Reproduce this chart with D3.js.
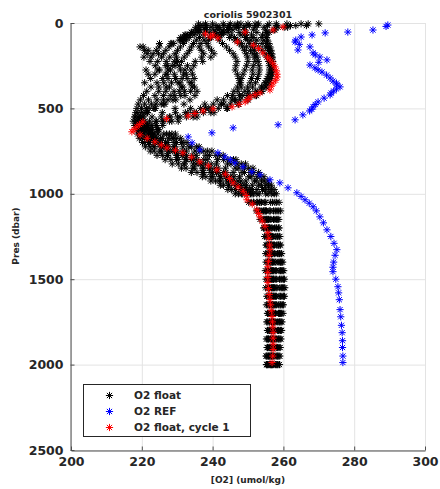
<!DOCTYPE html>
<html>
<head>
<meta charset="utf-8">
<script src="https://cdn.jsdelivr.net/npm/d3@7"></script>
<style>
body { margin: 0; background: #fff; }
svg text { font-family: "DejaVu Sans", sans-serif; font-weight: bold; fill: #262626; }
</style>
</head>
<body>
<svg class="chart" width="440" height="489"></svg>
<script>

//
// data
//

var titleText = "coriolis 5902301";
var xTicks = [200, 220, 240, 260, 280, 300];
var yTicks = [0, 500, 1000, 1500, 2000, 2500];
var legendLabels = ["O2 float", "O2 REF", "O2 float, cycle 1"];

// pressure levels shared by the float cycles (dbar)
var presFloat = [5, 15, 25, 40, 55, 70, 85, 100, 120, 140, 160, 180, 200, 225, 250, 275, 300, 325, 350, 375,
    400, 425, 450, 475, 500, 525, 550, 575, 600, 625, 650, 675, 700, 725, 750, 775, 800, 825, 850, 875,
    900, 925, 950, 975, 1000, 1050, 1100, 1150, 1200, 1250, 1300, 1350, 1400, 1450, 1500, 1550, 1600,
    1650, 1700, 1750, 1800, 1850, 1900, 1950, 2000];

// O2 float, all cycles (umol/kg)
var floatA = [265, 262, 258.5, 255, 252.5, 251, 251.5, 252.5, 254, 255, 255.8, 256.3, 256.6, 256.8, 256.9, 256.9, 256.7, 256.4, 255.9, 255.1,
    254.0, 252.4, 250.0, 247.2, 244, 239.5, 234.5, 228.5, 224, 222.6, 226.2,
    227.5, 229.1, 231.6, 235.0, 238.1, 241.4, 244.2, 246.4, 248.3, 250.2, 251.8, 253.0, 254.1, 255.0, 256.4, 257.2,
    257.2, 257.5, 257.7, 258.1, 258.3, 258.5, 258.8, 258.9, 259.0, 258.8, 258.7, 258.6, 258.4, 258.3, 258.1, 258.0, 257.9, 257.8];
var floatB = [258, 255.5, 252, 249, 247.5, 248, 249.5, 250.8, 252, 253, 254, 254.8, 255.3, 255.8, 256, 256.1, 255.9, 255.4, 254.8, 253.8,
    252.2, 249.8, 246.5, 242.5, 238, 233, 228, 224, 221.5, 220.6, 223.1,
    224.2, 225.5, 227.6, 230.0, 232.6, 235.6, 238.0, 240.6, 243.1, 245.0, 247.2, 248.9, 250.4, 251.5, 253.8, 255.2,
    255.8, 256.1, 256.6, 256.7, 257.0, 257.1, 257.3, 257.2, 257.5, 257.3, 257.4, 257.2, 257.3, 257.1, 257.2, 256.9, 257.0, 256.8];
var floatC = [250, 247, 244.5, 241.5, 239.2, 237.5, 236.3, 235.4, 234.6, 234, 233.5, 232.8, 232, 231.2, 230.6, 230.9, 231.8, 232.8, 233.6, 234.2,
    233.8, 232.2, 229.6, 226.5, 223.8, 221.2, 219.6, 218.6, 218.4, 218.5, 218.8,
    219.3, 220.2, 221.0, 222.4, 224.3, 226.6, 228.6, 231.2, 234.0, 237.1, 239.5, 242.2, 244.3, 246.4, 250.2, 252.4,
    253.4, 254.4, 254.7, 255.1, 255.0, 255.1, 254.9, 255.1, 255.0, 255.3, 255.2, 255.5, 255.3, 255.5, 255.2, 255.4, 255.1, 255.3];
var floatD = [245, 243.2, 241.5, 240.3, 240.8, 242.6, 244.8, 246.3, 247.5, 248.4, 249, 249.5, 249.9, 250, 249.6, 249.1, 248.6, 248.1, 247.6, 247,
    246, 244.2, 241.3, 237.8, 233.8, 229.5, 225.5, 222.2, 220.6, 223.0, 227.8,
    229.0, 231.2, 234.0, 237.5, 240.9, 244.3, 246.9, 249.0, 250.9, 252.6, 253.8, 255.0, 255.9, 256.7, 257.6, 258.2,
    258.0, 258.1, 258.4, 258.6, 258.9, 259.2, 259.4, 259.6, 259.7, 259.6, 259.3, 259.2, 259.0, 258.8, 258.7, 258.5, 258.4, 258.3];
var floatE = [240, 238.2, 236, 235.2, 234.0, 232.5, 231.6, 231.0, 228.5, 220.4, 221.8, 224.7, 225.6, 222.3, 223.8, 221.2, 223.7, 225.9, 220.8, 222.6,
    224.8, 223.7, 221.9, 220.8, 219.9, 218.9, 218.1, 217.6, 218.0, 219.2, 221.7,
    222.4, 223.6, 225.4, 227.6, 230.1, 232.4, 235.3, 237.5, 240.0, 242.3, 244.6, 246.6, 248.2, 249.8, 252.6, 254.3,
    254.9, 255.6, 255.9, 256.3, 256.2, 256.5, 256.4, 256.6, 256.6, 256.8, 256.6, 256.8, 256.7, 256.5, 256.6, 256.4, 256.3, 256.4];
var floatF = [236, 237.3, 238.2, 236.4, 234.1, 232.2, 231.0, 230.6, 228.2, 227.7, 226.8, 226.1, 227.9, 229.2, 227.3, 228.1, 229.2, 227.4, 226.2, 227.8,
    229.1, 228.2, 226.1, 224.0, 222.1, 220.6, 219.7, 219.8, 221.1, 224.8, 229.5,
    231.0, 232.8, 236.2, 239.8, 243.0, 246.6, 249.3, 251.4, 253.0, 254.5, 255.6, 256.6, 257.4, 258.0, 258.8, 259.2,
    258.7, 258.8, 259.0, 259.2, 259.5, 259.8, 260.1, 260.3, 260.4, 260.3, 260.0, 259.9, 259.6, 259.5, 259.3, 259.1, 259.0, 258.9];
var floatG = [270, 266.5, 261.2, 257.4, 255.2, 254.1, 253.9, 254.5, 255.2, 255.6, 256.0, 256.3, 256.0, 256.3, 256.6, 256.6, 256.2, 255.6, 255.0, 254.0,
    252.6, 250.6, 247.8, 245.0, 241.6, 237.4, 232.6, 227.8, 224.1, 222.2, 224.6,
    225.8, 227.3, 229.4, 232.6, 235.4, 238.5, 241.1, 243.6, 245.8, 247.6, 249.4, 251.2, 252.5, 253.2, 255.0, 256.3,
    256.5, 256.8, 257.1, 257.5, 257.6, 257.9, 258.0, 258.1, 258.2, 258.0, 258.1, 257.8, 257.9, 257.6, 257.7, 257.5, 257.4, 257.3];
var floatH = [253, 250.4, 247.3, 244.5, 243, 242.1, 241.6, 241.9, 242.8, 243.9, 244.8, 245.8, 246.4, 246.9, 246.6, 246.4, 247, 247.4, 247.9, 248.1,
    247.2, 245.6, 243.1, 240.2, 236.6, 232.3, 227.8, 224.1, 221.6, 220.2, 220.0,
    220.8, 221.9, 223.5, 225.1, 227.2, 229.8, 232.0, 234.4, 237.1, 239.6, 241.9, 244.5, 246.5, 248.2, 251.5, 253.2,
    254.4, 254.8, 255.5, 255.5, 255.8, 255.6, 255.8, 255.7, 255.9, 255.8, 256.1, 255.9, 256.0, 256.1, 255.8, 256.0, 255.8, 255.7];
var floatI = [256, 252.6, 248.8, 245.7, 243.2, 240.9, 239.6, 238.8, 238.4, 238.9, 239.7, 240.4, 239.5, 237.2, 234.7, 233.9, 234.3, 234.8, 234.1, 234.9,
    235.6, 235.0, 233.6, 231.9, 229.4, 225.8, 222.9, 220.9, 220.0, 220.6, 222.4,
    223.3, 224.6, 226.5, 228.8, 231.4, 234.0, 236.7, 239.1, 241.6, 243.7, 245.9, 247.8, 249.3, 250.7, 253.2, 254.8,
    255.3, 255.9, 256.2, 256.5, 256.6, 256.8, 256.9, 256.9, 257.0, 257.1, 257.0, 257.0, 256.9, 256.8, 256.9, 256.7, 256.6, 256.6];
var floatJ = [238, 236.5, 235.2, 236.0, 234.5, 233.0, 232.0, 231.5, 225.0, 219.5, 220.8, 221.5, 220.6, 224.5, 226.8, 225, 221.8, 222.5, 224.3, 226.9,
    221.4, 220.5, 219.6, 219.0, 218.6, 218.3, 218.0, 218.4, 219.4, 220.8, 222.9,
    223.8, 224.9, 227.0, 229.3, 231.6, 234.6, 236.5, 239.2, 241.1, 243.9, 245.7, 247.9, 249.5, 251.1, 253.4, 255.0,
    255.6, 256.0, 256.4, 256.8, 256.8, 257.0, 257.1, 257.3, 257.2, 257.4, 257.3, 257.1, 257.2, 256.9, 256.9, 256.8, 256.6, 256.5];
var floatK = [243, 241, 239.5, 237.8, 236.2, 234.8, 233.4, 232.6, 231.8, 230.9, 230.1, 229.4, 229.8, 230.1, 228.6, 227.4, 226.8, 229.6, 230.2, 231.1,
    230.6, 229.3, 227.4, 225.5, 223.4, 221.6, 220.4, 219.9, 221.3, 224.4, 228.5,
    229.9, 231.9, 235.5, 238.6, 241.9, 245.9, 248.1, 250.2, 251.6, 253.4, 254.6, 255.8, 256.6, 257.4, 258.1, 258.7,
    258.4, 258.6, 258.8, 259.0, 259.3, 259.5, 259.8, 260.0, 260.1, 260.0, 259.7, 259.5, 259.3, 259.2, 259.0, 258.8, 258.7, 258.5];
var floatL = [261, 258, 254.5, 251.5, 249.5, 249, 249.3, 249.8, 250.5, 251.2, 251.8, 252.3, 252.6, 252.9, 253.1, 253.2, 253, 252.7, 252.1, 251.3,
    250.2, 248.5, 246.2, 243.2, 239.6, 235.4, 230.8, 226.2, 222.9, 221.4, 221.9,
    222.6, 223.4, 225.6, 227.4, 229.8, 232.7, 234.5, 237.1, 239.3, 242.1, 244.0, 246.5, 248.0, 249.9, 252.5, 254.5,
    255.3, 255.7, 256.1, 256.3, 256.5, 256.4, 256.6, 256.5, 256.8, 256.7, 256.9, 256.6, 256.7, 256.5, 256.4, 256.2, 256.1, 256.0];
var floatM = [252, 249.5, 246.8, 244.6, 242.4, 240.8, 239.2, 237.6, 236.7, 236.2, 236.8, 237.5, 236.9, 235.1, 232.9, 232.2, 232.6, 231.4, 230.8, 231.6,
    232.1, 231.0, 228.8, 226.2, 223.7, 221.6, 220.3, 219.6, 219.3, 219.6, 220.6,
    221.3, 222.2, 223.5, 225.6, 227.3, 230.3, 232.0, 234.8, 237.4, 240.1, 242.3, 244.6, 246.4, 248.5, 251.6, 253.7,
    254.6, 255.2, 255.4, 255.8, 255.9, 256.0, 255.9, 256.1, 256.2, 256.3, 256.2, 256.3, 256.1, 256.0, 255.9, 255.7, 255.6, 255.5];
var floatN = [248, 246.1, 244.3, 243.0, 244.1, 245.3, 246.2, 247.1, 248.2, 249.6, 250.7, 251.4, 251.9, 252.0, 251.5, 251.2, 251.4, 251.0, 250.6, 249.9,
    249.1, 247.6, 245.4, 242.4, 238.9, 234.8, 230.1, 225.8, 222.6, 221.8, 223.5,
    225.3, 226.7, 229.1, 231.6, 234.2, 237.5, 239.6, 241.6, 243.8, 246.1, 248.0, 249.6, 251.3, 252.5, 254.6, 256.0,
    256.2, 256.5, 256.9, 257.2, 257.4, 257.6, 257.7, 257.7, 257.9, 257.8, 257.8, 257.6, 257.6, 257.4, 257.4, 257.1, 257.1, 256.9];
var floatO = [247, 244.8, 241.9, 238.1, 235.6, 233.8, 232.5, 231.8, 229.0, 224.9, 224.1, 223.2, 222.6, 226.9, 229.4, 224.6, 227.1, 229.5, 228.4, 224.8,
    226.8, 226.1, 224.3, 222.7, 221.3, 219.8, 218.9, 218.7, 219.2, 219.6, 219.4,
    220.1, 220.8, 222.3, 223.5, 225.8, 228.2, 230.3, 232.5, 235.6, 238.1, 240.8, 243.1, 245.3, 247.3, 250.9, 252.8,
    254.0, 254.5, 255.1, 255.4, 255.4, 255.5, 255.4, 255.5, 255.6, 255.7, 255.6, 255.7, 255.6, 255.7, 255.5, 255.5, 255.3, 255.2];
var floatP = [267, 263.5, 260.4, 257.6, 256.0, 255.3, 255.2, 255.5, 255.9, 256.2, 256.5, 256.7, 256.9, 257.0, 257.1, 257.0, 256.9, 256.5, 256.0, 255.1,
    253.8, 252.0, 249.8, 247.3, 244.2, 240.4, 235.6, 230.3, 225.9, 224.6, 227.0,
    228.5, 229.8, 233.3, 236.4, 239.1, 243.1, 245.2, 247.4, 249.0, 250.9, 252.3, 253.8, 254.9, 255.7, 256.9, 257.7,
    257.6, 257.9, 258.2, 258.5, 258.7, 259.0, 259.2, 259.3, 259.4, 259.2, 259.1, 258.9, 258.8, 258.6, 258.5, 258.3, 258.2, 258.0];
var floatCycles = [floatA, floatB, floatC, floatD, floatE, floatF, floatG, floatH,
    floatI, floatJ, floatK, floatL, floatM, floatN, floatO, floatP];

// O2 REF profile
var presRef = [12, 20, 41, 53, 58, 70, 82, 100, 111, 125, 140, 158, 175, 187, 199, 216, 230, 246, 263, 275,
    287, 305, 322, 340, 352, 363, 374, 386, 398, 410, 421, 440, 462, 477, 491, 505, 515, 538, 567, 596,
    614, 643, 667, 702, 743, 760, 784, 800, 819, 842, 871, 889, 918, 936, 965, 994, 1015, 1035, 1055, 1076,
    1100, 1135, 1170, 1211, 1250, 1290, 1327, 1360, 1400, 1430, 1456, 1500, 1544, 1580, 1620, 1678, 1720, 1770, 1813, 1860,
    1900, 1950, 1988];
var o2Ref = [289.5, 289.0, 285.3, 278.2, 271.8, 268.1, 265.0, 263.5, 263.3, 264.5, 267.5, 264.1, 268.4, 269.0, 270.3, 272.3, 270.0, 267.5, 268.9, 269.8,
    270.9, 272.2, 273.2, 274.0, 275.0, 275.1, 276.0, 275.0, 274.2, 273.5, 273.2, 271.5, 269.8, 269.0, 268.4, 268.0, 267.4, 265.5, 263.3, 258.5,
    245.8, 239.8, 233.1, 234.2, 236.4, 241.5, 243.5, 245.0, 246.3, 248.6, 251.1, 253.4, 256.2, 259.0, 261.3, 263.8, 265.0, 266.1, 267.3, 268.4,
    269.3, 270.3, 271.3, 272.3, 273.4, 274.3, 275.1, 274.6, 274.2, 274.0, 274.0, 274.8, 275.4, 275.6, 275.8, 276.0, 276.2, 276.4, 276.6, 276.7,
    276.7, 276.8, 276.8];

// O2 float, cycle 1
var presCycle1 = [23, 41, 53, 64, 70, 82, 88, 111, 130, 150, 175, 200, 216, 235, 257, 280, 300, 316, 335, 351,
    370, 392, 409, 420, 433, 448, 462, 476, 491, 503, 515, 530, 544, 560, 579, 594, 608, 623, 637, 655,
    675, 696, 714, 731, 745, 760, 785, 813, 837, 860, 885, 910, 936, 960, 985, 1010, 1035, 1060, 1094, 1115,
    1135, 1160, 1190, 1228, 1260, 1300, 1327, 1360, 1395, 1427, 1460, 1490, 1520, 1555, 1590, 1620, 1650, 1685, 1719, 1750,
    1780, 1813, 1845, 1880, 1912, 1950, 1988];
var o2Cycle1 = [259.9, 257.1, 249.2, 238.0, 240.1, 239.4, 241.5, 247.0, 251.5, 253.0, 254.2, 255.5, 256.2, 257.0, 257.6, 258.0, 258.2, 258.2, 257.8, 257.1,
    256.6, 256.2, 253.4, 252.0, 250.6, 250.0, 249.2, 247.5, 245.5, 240.1, 237.3, 235.0, 233.1, 227.0, 220.3, 219.3, 218.6, 217.8, 217.2, 219.5,
    221.5, 223.7, 225.5, 227.1, 229.5, 231.6, 234.0, 236.4, 238.8, 241.2, 243.6, 244.8, 245.8, 247.2, 248.6, 249.5, 249.7, 251.2, 252.5, 253.0,
    253.4, 254.0, 254.8, 255.6, 255.9, 256.1, 256.2, 256.0, 255.8, 255.6, 255.6, 255.6, 255.6, 255.8, 256.0, 256.2, 256.4, 256.6, 256.8, 256.9,
    257.0, 257.1, 257.1, 257.1, 257.1, 257.0, 256.8];

var colors = ["#000000", "#0000ff", "#ff0000"];

//
// scene
//

var svg = d3.select(".chart");

var x = d3.scaleLinear().domain([200, 300]).range([71, 425]);
var y = d3.scaleLinear().domain([0, 2500]).range([23, 450]);

// asterisk marker (8 arms)
function star(cx, cy) {
    var r = 3.6, d = 2.6;
    return "M" + (cx - r) + "," + cy + "H" + (cx + r) +
        "M" + cx + "," + (cy - r) + "V" + (cy + r) +
        "M" + (cx - d) + "," + (cy - d) + "L" + (cx + d) + "," + (cy + d) +
        "M" + (cx - d) + "," + (cy + d) + "L" + (cx + d) + "," + (cy - d);
}

// grid
svg.append("g").selectAll("line")
    .data(xTicks)
    .enter().append("line")
    .attr("x1", function (d) { return x(d) + 0.5; })
    .attr("x2", function (d) { return x(d) + 0.5; })
    .attr("y1", y(0))
    .attr("y2", y(2500))
    .attr("stroke", "#e3e3e3");
svg.append("g").selectAll("line")
    .data(yTicks)
    .enter().append("line")
    .attr("x1", x(200))
    .attr("x2", x(300))
    .attr("y1", function (d) { return y(d) + 0.5; })
    .attr("y2", function (d) { return y(d) + 0.5; })
    .attr("stroke", "#e3e3e3");

// series as [o2, pres] points
var floatPoints = [];
floatCycles.forEach(function (cyc) {
    cyc.forEach(function (v, i) { floatPoints.push([v, presFloat[i]]); });
});
var refPoints = o2Ref.map(function (v, i) { return [v, presRef[i]]; });
var cycle1Points = o2Cycle1.map(function (v, i) { return [v, presCycle1[i]]; });

var series = [floatPoints, refPoints, cycle1Points];

series.forEach(function (pts, k) {
    svg.append("g")
        .attr("fill", "none")
        .attr("stroke", colors[k])
        .attr("stroke-width", 1)
        .selectAll("path")
        .data(pts)
        .enter().append("path")
        .attr("d", function (d) { return star(x(d[0]), y(d[1])); });
});

// axes
var xAxis = d3.axisBottom(x).tickValues(xTicks).tickFormat(d3.format("d"))
    .tickSizeInner(-4).tickSizeOuter(0).tickPadding(7);
var yAxis = d3.axisLeft(y).tickValues(yTicks).tickFormat(d3.format("d"))
    .tickSizeInner(-4).tickSizeOuter(0).tickPadding(7);

var gx = svg.append("g").attr("transform", "translate(0," + (y(2500) + 0.5) + ")").call(xAxis);
var gy = svg.append("g").attr("transform", "translate(" + (x(200) - 0.5) + ",0)").call(yAxis);
[gx, gy].forEach(function (g) {
    g.select(".domain").attr("stroke", "#4d4d4d");
    g.selectAll(".tick line").attr("stroke", "#4d4d4d");
    g.selectAll(".tick text")
        .attr("font-family", "DejaVu Sans, sans-serif")
        .attr("font-weight", "bold")
        .attr("font-size", 12.5)
        .attr("fill", "#262626");
});

// labels
svg.append("text")
    .attr("x", 248).attr("y", 18)
    .attr("text-anchor", "middle")
    .attr("font-size", 9.5)
    .text(titleText);
svg.append("text")
    .attr("x", 248).attr("y", 483)
    .attr("text-anchor", "middle")
    .attr("font-size", 9)
    .text("[O2] (umol/kg)");
svg.append("text")
    .attr("transform", "translate(19,236) rotate(-90)")
    .attr("text-anchor", "middle")
    .attr("font-size", 9)
    .text("Pres (dbar)");

// legend
var legend = svg.append("g");
legend.append("rect")
    .attr("x", 83.5).attr("y", 384.5)
    .attr("width", 167).attr("height", 52)
    .attr("fill", "#fff")
    .attr("stroke", "#262626");
legendLabels.forEach(function (label, i) {
    var ly = 395 + i * 16;
    legend.append("path")
        .attr("d", star(109.5, ly + 0.5))
        .attr("fill", "none")
        .attr("stroke", colors[i]);
    legend.append("text")
        .attr("x", 134).attr("y", ly + 4)
        .attr("font-size", 10.5)
        .text(label);
});

</script>
</body>
</html>
